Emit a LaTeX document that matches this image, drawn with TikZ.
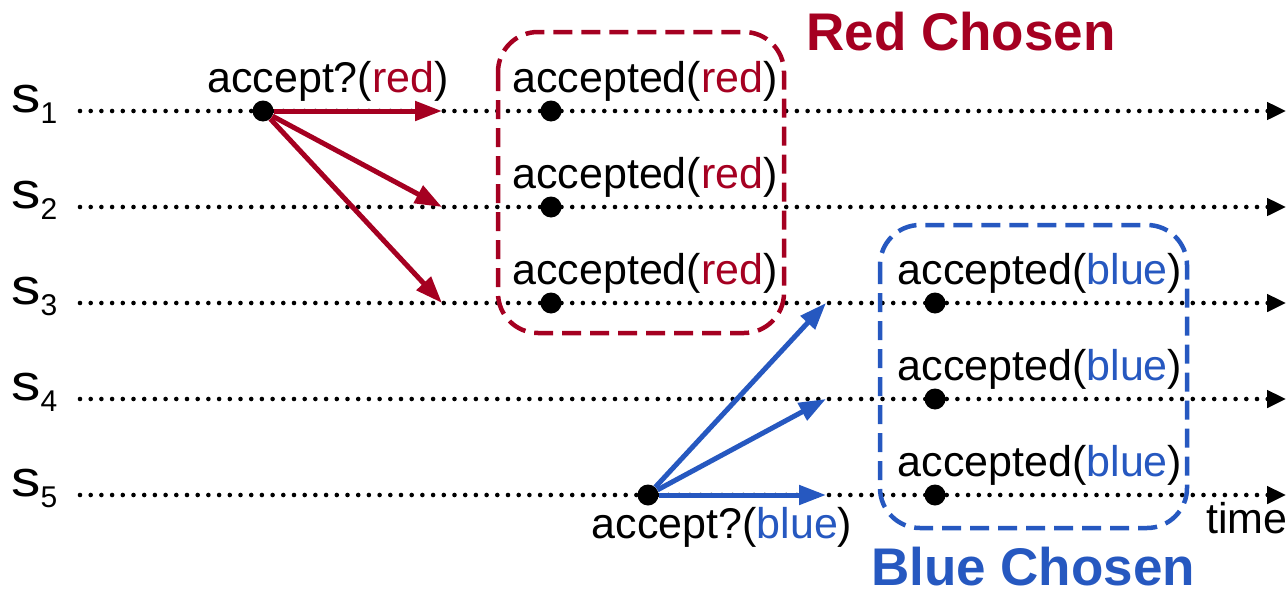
\documentclass[tikz,border=0pt]{standalone}
\usepackage{fontspec}
\setmainfont{Liberation Sans}
\usetikzlibrary{arrows.meta}
\definecolor{chosenred}{RGB}{165,0,33}
\definecolor{chosenblue}{RGB}{38,88,192}
\begin{document}
\begin{tikzpicture}[x=1pt,y=-1pt,
  timeline/.style={line width=4.6pt, line cap=round, dash pattern=on 0pt off 10.7pt,
    -{Triangle[length=19pt,width=17pt]}},
  event/.style={circle, fill=black, inner sep=0pt, minimum size=21pt},
  msg/.style={line width=5pt, -{Triangle[length=27pt,width=19pt]}},
  lbl/.style={font=\fontsize{43}{50}\selectfont, anchor=base, inner sep=0pt},
  proc/.style={anchor=base west, inner sep=0pt, font=\fontsize{51}{56}\selectfont},
  group/.style={line width=4.5pt, dash pattern=on 19pt off 9pt, rounded corners=40pt},
  title/.style={font=\fontsize{53}{60}\selectfont\bfseries, anchor=base, inner sep=0pt}]
\useasboundingbox (0,0) rectangle (1286,597);

% process names and their time lines
\foreach \i/\y in {1/111,2/207,3/303,4/399,5/495}{
  \node[proc] (s\i) at (11,\y+1) {\scalebox{1.15}[1]{s}\raisebox{-11pt}{\fontsize{30}{34}\selectfont\i}};
  \coordinate (t\i s) at (80,\y);
  \coordinate (t\i e) at (1286,\y);
  \draw[timeline] (t\i s) -- (t\i e);
}
\node[anchor=base west, inner sep=0pt, font=\fontsize{43}{50}\selectfont] (time) at (1206,533) {time};

% groups of accepting processes
\draw[group, chosenred] (498,32) rectangle (784,333);
\draw[group, chosenblue] (880,225) rectangle (1187,528);
\node[title, text=chosenred] (redtitle) at (961,50) {Red Chosen};
\node[title, text=chosenblue] (bluetitle) at (1033,585) {Blue Chosen};

% proposal from s1
\node[event] (p1) at (263,111) {};
\node[lbl] (p1l) at (328,92) {accept?(\textcolor{chosenred}{red})};
\coordinate (r1) at (442,111);
\coordinate (r2) at (442,207);
\coordinate (r3) at (442,303);
\foreach \k in {1,2,3}{ \draw[msg, chosenred] (p1) -- (r\k); }

% proposal from s5
\node[event] (p5) at (648,495) {};
\node[lbl] (p5l) at (722,538) {accept?(\textcolor{chosenblue}{blue})};
\coordinate (b3) at (826,303);
\coordinate (b4) at (826,399);
\coordinate (b5) at (826,495);
\foreach \k in {3,4,5}{ \draw[msg, chosenblue] (p5) -- (b\k); }

% acceptances
\foreach \i/\y in {1/111,2/207,3/303}{
  \node[event] (ar\i) at (551,\y) {};
  \node[lbl] (ar\i l) at (645,\y-19) {accepted(\textcolor{chosenred}{red})};
}
\foreach \i/\y in {3/303,4/399,5/495}{
  \node[event] (ab\i) at (935,\y) {};
  \node[lbl] (ab\i l) at (1040,\y-19) {accepted(\textcolor{chosenblue}{blue})};
}
\end{tikzpicture}
\end{document}
